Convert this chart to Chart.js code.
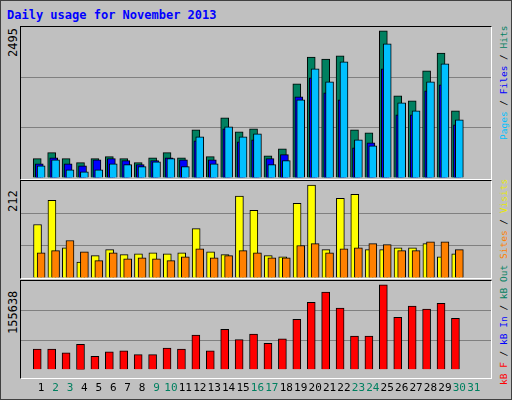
<!DOCTYPE html>
<html>
<head>
<meta charset="utf-8">
<script src="https://cdn.jsdelivr.net/npm/chart.js@4"></script>
<style>
  body { margin: 0; background: #c0c0c0; }
  #wrap { position: relative; width: 510px; height: 398px; border: 1px solid #404040; background: #c0c0c0; font-family: "DejaVu Sans Mono", monospace; }
  .panel { position: absolute; left: 19px; width: 470px; border-top: 1px solid #000; border-left: 1px solid #000; border-right: 1px solid #fff; border-bottom: 1px solid #fff; }
  .rot { position: absolute; transform-origin: left top; transform: rotate(-90deg); white-space: nowrap; font-size: 12px; }
  .rs { font-size: 9.5px; line-height: 11px; }
  canvas { position: absolute; }
</style>
</head>
<body>
<div id="wrap">
  <div style="position:absolute;left:6px;top:7px;color:#0000ff;font-weight:bold;font-size:12px;">Daily usage for November 2013</div>
  <div class="panel" style="top:25px;height:152px;"></div>
  <div class="panel" style="top:179px;height:97px;"></div>
  <div class="panel" style="top:279px;height:97px;"></div>
  <div style="position:absolute;left:20px;top:26px;width:470px;height:151px;"><canvas id="c1"></canvas></div>
  <div style="position:absolute;left:20px;top:180px;width:470px;height:97px;"><canvas id="c2"></canvas></div>
  <div style="position:absolute;left:20px;top:280px;width:470px;height:118px;"><canvas id="c3"></canvas></div>
  <div class="rot" style="left:5px;top:56px;color:#000;">2495</div>
  <div class="rot" style="left:5px;top:211px;color:#000;">212</div>
  <div class="rot" style="left:5px;top:333px;color:#000;">155638</div>
  <div class="rot rs" style="left:497px;top:139px;"><span style="color:#00c0ff">Pages</span> / <span style="color:#0000ff">Files</span> / <span style="color:#008060">Hits</span></div>
  <div class="rot rs" style="left:497px;top:258px;"><span style="color:#ff8000">Sites</span> / <span style="color:#e8e800">Visits</span></div>
  <div class="rot rs" style="left:497px;top:384px;"><span style="color:#ff0000">kB F</span> / <span style="color:#0000ff">kB In</span> / <span style="color:#008060">kB Out</span></div>
</div>
<script>
let days = [];
for (let d = 1; d <= 31; d++) days.push(d);
let weekend = [2, 3, 9, 10, 16, 17, 23, 24, 30, 31];

let hits = [319, 418, 319, 253, 319, 352, 319, 253, 335, 418, 335, 797, 352, 995, 764, 813, 368, 484, 1555, 2000, 1967, 2017, 797, 747, 2430, 1357, 1275, 1770, 2066, 1110];
let files = [236, 335, 236, 203, 302, 319, 286, 220, 286, 335, 302, 616, 302, 813, 599, 632, 319, 385, 1341, 1654, 1407, 1291, 500, 583, 1803, 1044, 1044, 1440, 1540, 880];
let pages = [203, 302, 137, 104, 137, 236, 220, 187, 269, 319, 187, 682, 236, 847, 682, 731, 220, 286, 1292, 1804, 1589, 1919, 632, 533, 2215, 1242, 1110, 1589, 1886, 962];
let visits = [117, 170, 66, 35, 49, 62, 51, 53, 55, 53, 55, 108, 57, 51, 179, 148, 49, 46, 163, 203, 62, 174, 183, 62, 62, 66, 66, 75, 46, 53];
let sites = [55, 60, 82, 57, 38, 55, 42, 44, 42, 38, 46, 64, 44, 49, 60, 55, 44, 44, 71, 75, 55, 64, 66, 75, 73, 60, 60, 79, 79, 62];
let kbytes = [36450, 36450, 29920, 44600, 23390, 31550, 33180, 26660, 26660, 38080, 36450, 60930, 33180, 70720, 52770, 62560, 46240, 54400, 88670, 118050, 136000, 108260, 59300, 59300, 149060, 91940, 111520, 106620, 116420, 90300];

let maxHits = 2495, maxVisits = 212, maxKb = 155638;

function pts(values, shift) {
  return values.map((v, i) => ({ x: days[i] + shift, y: v }));
}

// higher order is drawn first, so the front bar gets order 1
function ds(values, shift, color, order) {
  return {
    data: pts(values, shift),
    backgroundColor: color,
    borderColor: "#000",
    borderWidth: 1,
    borderSkipped: "bottom",
    barThickness: 8,
    grouped: false,
    order: order
  };
}

function makeChart(id, datasets, max, showX) {
  let ctx = document.getElementById(id).getContext("2d");
  return new Chart(ctx, {
    type: "bar",
    data: { datasets },
    options: {
      responsive: true,
      maintainAspectRatio: false,
      animation: false,
      layout: { padding: 0 },
      plugins: { legend: { display: false }, tooltip: { enabled: false } },
      scales: {
        x: {
          type: "linear",
          min: 0.13,
          max: 31.67,
          display: showX,
          grid: { display: false },
          border: { display: false },
          afterBuildTicks: s => { s.ticks = days.map(d => ({ value: d })); },
          ticks: {
            autoSkip: false,
            maxRotation: 0,
            padding: 4,
            font: { family: "DejaVu Sans Mono", size: 11 },
            color: c => weekend.includes(c.tick.value) ? "#008060" : "#000",
            callback: v => v
          }
        },
        y: {
          min: 0,
          max: max,
          afterBuildTicks: s => { s.ticks = [0, 1, 2, 3].map(k => ({ value: max * k / 3 })); },
          ticks: { display: false },
          grid: { drawTicks: false, color: c => (c.index === 0 || c.index === 3) ? "rgba(0,0,0,0)" : "#808080", lineWidth: 1 },
          border: { display: false },
          afterFit: s => { s.width = 0; }
        }
      }
    }
  });
}

makeChart("c1", [
  ds(hits, -0.27, "#008060", 3),
  ds(files, -0.13, "#0000ff", 2),
  ds(pages, 0, "#00c0ff", 1)
], maxHits, false);

makeChart("c2", [
  ds(visits, -0.25, "#ffff00", 2),
  ds(sites, 0, "#ff8000", 1)
], maxVisits, false);

makeChart("c3", [
  ds(kbytes, -0.27, "#ff0000", 1)
], maxKb, true);
</script>
</body>
</html>
